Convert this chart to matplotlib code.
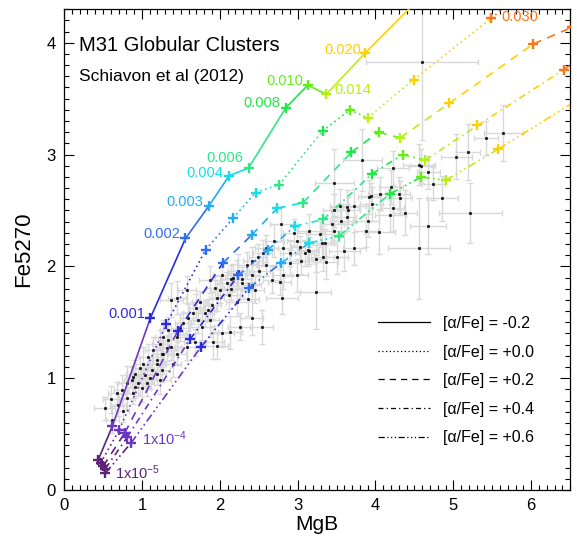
import numpy as np
import matplotlib
matplotlib.use("Agg")
import matplotlib.pyplot as plt
from matplotlib.lines import Line2D

plt.rcParams['font.family'] = ['Liberation Sans', 'DejaVu Sans']
plt.rcParams['mathtext.default'] = 'regular'

# SSP model grid: metallicity steps and colours
z_labels = ['1x10$^{-5}$', '1x10$^{-4}$', '0.001', '0.002', '0.003', '0.004',
            '0.006', '0.008', '0.010', '0.014', '0.020', '0.030', '0.040']
z_colors = ['#5c2378', '#6a36c6', '#2a2ae2', '#2f6ef2', '#22acf6', '#12e0e8',
            '#2ee888', '#1ce846', '#62f014', '#b8f012', '#ffd000', '#ff7414',
            '#ff6010']

alpha_labels = ['[α/Fe] = -0.2', '[α/Fe] = +0.0', '[α/Fe] = +0.2',
                '[α/Fe] = +0.4', '[α/Fe] = +0.6']

mgb_m02 = [0.44, 0.62, 1.11, 1.56, 1.86, 2.12, 2.37, 2.85, 3.13, 3.37, 3.87, 5.00, 5.90]
fe_m02 = [0.27, 0.57, 1.54, 2.25, 2.54, 2.81, 2.88, 3.42, 3.62, 3.54, 3.91, 4.70, 5.30]

mgb_p00 = [0.47, 0.71, 1.31, 1.82, 2.17, 2.46, 2.76, 3.32, 3.67, 3.90, 4.49, 5.49, 6.40]
fe_p00 = [0.24, 0.54, 1.48, 2.15, 2.43, 2.66, 2.73, 3.21, 3.40, 3.33, 3.67, 4.22, 4.75]

mgb_p02 = [0.50, 0.78, 1.46, 2.04, 2.41, 2.74, 3.07, 3.69, 4.04, 4.32, 4.95, 6.03, 6.53]
fe_p02 = [0.21, 0.51, 1.42, 2.03, 2.28, 2.52, 2.57, 3.02, 3.20, 3.15, 3.46, 3.99, 4.14]

mgb_p04 = [0.53, 0.81, 1.62, 2.24, 2.62, 2.97, 3.33, 3.96, 4.35, 4.64, 5.31, 6.42, 7.00]
fe_p04 = [0.19, 0.47, 1.35, 1.92, 2.15, 2.36, 2.42, 2.83, 3.00, 2.95, 3.26, 3.76, 4.05]

mgb_p06 = [0.53, 0.86, 1.76, 2.38, 2.79, 3.15, 3.53, 4.19, 4.59, 4.90, 5.58, 6.90, 7.50]
fe_p06 = [0.15, 0.42, 1.28, 1.81, 2.03, 2.21, 2.27, 2.65, 2.80, 2.77, 3.05, 3.62, 3.90]

# M31 globular clusters
mgb_gc = [0.52, 0.60, 0.62, 0.68, 0.69, 0.74, 0.76, 0.81, 0.81, 0.87, 0.88, 0.88,
          0.91, 0.91, 0.95, 0.97, 1.00, 1.01, 1.04, 1.06, 1.08, 1.10, 1.13, 1.14,
          1.19, 1.19, 1.19, 1.23, 1.23, 1.26, 1.26, 1.27, 1.27, 1.32, 1.33, 1.33,
          1.38, 1.38, 1.40, 1.45, 1.45, 1.45, 1.49, 1.53, 1.58, 1.58, 1.59, 1.65,
          1.68, 1.70, 1.72, 1.74, 1.77, 1.81, 1.85, 1.87, 1.87, 1.90, 1.91, 1.94,
          1.96, 1.96, 2.00, 2.03, 2.03, 2.09, 2.12, 2.13, 2.15, 2.15, 2.17, 2.22,
          2.22, 2.23, 2.26, 2.28, 2.29, 2.35, 2.36, 2.41, 2.41, 2.42, 2.42, 2.45,
          2.49, 2.51, 2.54, 2.55, 2.60, 2.60, 2.67, 2.70, 2.77, 2.79, 2.80, 2.81,
          2.81, 2.90, 2.90, 2.96, 2.99, 2.99, 3.03, 3.05, 3.09, 3.14, 3.15, 3.15,
          3.23, 3.24, 3.29, 3.31, 3.32, 3.35, 3.37, 3.44, 3.47, 3.47, 3.47, 3.50,
          3.54, 3.56, 3.60, 3.63, 3.64, 3.65, 3.73, 3.73, 3.83, 3.88, 3.90, 3.92,
          3.94, 3.95, 4.05, 4.06, 4.19, 4.20, 4.22, 4.22, 4.30, 4.32, 4.38, 4.56,
          4.56, 4.59, 4.60, 4.67, 4.68, 4.74, 4.86, 5.04, 5.19, 5.22, 5.42, 5.64]
fe_gc = [0.73, 0.81, 0.63, 0.87, 0.76, 0.89, 0.71, 0.96, 0.82, 0.98, 0.87, 1.01,
         1.04, 0.92, 0.96, 1.09, 0.91, 1.13, 1.03, 0.96, 1.19, 1.00, 1.07, 1.25,
         1.13, 1.16, 1.04, 1.31, 0.98, 1.07, 1.22, 1.37, 1.22, 1.27, 1.34, 1.43,
         1.28, 1.70, 1.13, 1.22, 1.37, 1.72, 1.45, 1.49, 1.28, 1.79, 1.54, 1.58,
         1.32, 1.63, 1.52, 1.68, 1.46, 1.58, 1.61, 1.52, 1.88, 1.65, 1.32, 1.81,
         1.72, 1.29, 1.79, 1.92, 1.40, 1.85, 1.74, 1.41, 1.89, 1.80, 1.90, 1.94,
         1.68, 1.96, 1.46, 1.85, 1.89, 2.01, 1.71, 1.54, 1.83, 2.05, 1.92, 1.79,
         2.08, 1.96, 1.46, 2.12, 2.01, 2.16, 1.88, 2.23, 1.86, 2.38, 1.72, 2.16,
         1.92, 2.12, 2.03, 2.30, 2.23, 1.92, 2.17, 2.05, 2.12, 2.15, 2.32, 2.14,
         1.77, 2.07, 2.29, 2.21, 2.08, 2.21, 2.04, 2.38, 2.75, 2.50, 2.32, 2.08,
         2.54, 2.41, 2.14, 2.44, 2.53, 2.50, 2.16, 2.54, 2.95, 2.32, 2.41, 2.62,
         2.63, 2.56, 2.31, 2.65, 2.46, 2.71, 2.88, 2.52, 2.65, 2.61, 2.48, 2.91,
         2.16, 2.90, 3.83, 2.36, 2.84, 2.74, 2.61, 2.98, 3.02, 2.48, 3.15, 3.19]
mgb_gc_err = [0.14, 0.10, 0.08, 0.12, 0.10, 0.10, 0.08, 0.12, 0.10, 0.10, 0.10, 0.08,
              0.12, 0.10, 0.10, 0.10, 0.12, 0.10, 0.12, 0.10, 0.12, 0.10, 0.14, 0.10,
              0.12, 0.10, 0.12, 0.10, 0.15, 0.10, 0.12, 0.10, 0.14, 0.10, 0.12, 0.10,
              0.12, 0.15, 0.10, 0.12, 0.10, 0.12, 0.12, 0.10, 0.15, 0.12, 0.10, 0.12,
              0.14, 0.10, 0.12, 0.10, 0.15, 0.12, 0.10, 0.12, 0.14, 0.12, 0.15, 0.12,
              0.10, 0.15, 0.12, 0.12, 0.15, 0.12, 0.14, 0.15, 0.12, 0.12, 0.10, 0.12,
              0.14, 0.12, 0.15, 0.12, 0.12, 0.12, 0.14, 0.15, 0.12, 0.12, 0.10, 0.12,
              0.12, 0.14, 0.15, 0.12, 0.12, 0.15, 0.12, 0.12, 0.15, 0.15, 0.20, 0.12,
              0.12, 0.12, 0.14, 0.15, 0.12, 0.15, 0.12, 0.15, 0.12, 0.12, 0.15, 0.12,
              0.20, 0.12, 0.15, 0.12, 0.15, 0.12, 0.15, 0.15, 0.25, 0.15, 0.15, 0.15,
              0.12, 0.15, 0.20, 0.12, 0.15, 0.15, 0.15, 0.15, 0.25, 0.15, 0.15, 0.15,
              0.12, 0.15, 0.20, 0.15, 0.20, 0.15, 0.20, 0.15, 0.15, 0.15, 0.15, 0.20,
              0.40, 0.15, 0.72, 0.23, 0.15, 0.15, 0.20, 0.20, 0.15, 0.40, 0.15, 0.25]
fe_gc_err = [0.10, 0.12, 0.12, 0.10, 0.10, 0.14, 0.10, 0.15, 0.10, 0.12, 0.10, 0.10,
             0.12, 0.10, 0.12, 0.10, 0.12, 0.15, 0.10, 0.12, 0.12, 0.10, 0.12, 0.12,
             0.15, 0.10, 0.10, 0.12, 0.12, 0.10, 0.12, 0.15, 0.10, 0.12, 0.10, 0.12,
             0.12, 0.15, 0.12, 0.10, 0.12, 0.15, 0.12, 0.10, 0.12, 0.12, 0.12, 0.10,
             0.12, 0.12, 0.12, 0.10, 0.12, 0.12, 0.10, 0.15, 0.12, 0.12, 0.15, 0.10,
             0.12, 0.12, 0.12, 0.12, 0.12, 0.10, 0.12, 0.15, 0.12, 0.10, 0.12, 0.12,
             0.12, 0.15, 0.12, 0.12, 0.10, 0.12, 0.15, 0.15, 0.12, 0.12, 0.10, 0.12,
             0.12, 0.12, 0.15, 0.12, 0.10, 0.12, 0.12, 0.15, 0.12, 0.15, 0.15, 0.12,
             0.12, 0.12, 0.12, 0.12, 0.12, 0.15, 0.10, 0.12, 0.12, 0.15, 0.15, 0.12,
             0.33, 0.12, 0.12, 0.15, 0.12, 0.12, 0.15, 0.15, 0.30, 0.15, 0.12, 0.15,
             0.15, 0.15, 0.18, 0.12, 0.15, 0.12, 0.15, 0.15, 0.28, 0.15, 0.15, 0.15,
             0.12, 0.15, 0.20, 0.15, 0.15, 0.15, 0.15, 0.20, 0.15, 0.15, 0.20, 0.18,
             0.45, 0.15, 0.70, 0.25, 0.15, 0.15, 0.20, 0.20, 0.25, 0.27, 0.15, 0.25]

grid_mgb = [mgb_m02, mgb_p00, mgb_p02, mgb_p04, mgb_p06]
grid_fe = [fe_m02, fe_p00, fe_p02, fe_p04, fe_p06]
styles = ['-', (0, (1, 2)), (0, (5, 4)), (0, (4, 2.5, 1, 2.5)),
          (0, (5, 2, 1, 2, 1, 2, 1, 2))]

fig = plt.figure(figsize=(5.77, 5.42), dpi=100)
ax = fig.add_axes([0.111, 0.096, 0.877, 0.887])

ax.errorbar(mgb_gc, fe_gc, xerr=mgb_gc_err, yerr=fe_gc_err, fmt='none',
            ecolor='#d8d8d8', elinewidth=1.0, capsize=2.2, zorder=1)
ax.plot(mgb_gc, fe_gc, 's', color='black', ms=1.8, mew=0.4, zorder=2)

for xs, ys, ls in zip(grid_mgb, grid_fe, styles):
    for i in range(len(xs) - 1):
        ax.plot(xs[i:i + 2], ys[i:i + 2], color=z_colors[i], lw=1.2,
                linestyle=ls, zorder=3)
    for i in range(len(xs)):
        ax.plot(xs[i], ys[i], '+', color=z_colors[i], ms=7, mew=1.7, zorder=4)

# metallicity labels: (track, index, offset in points, alignment)
z_tags = [(4, 0, (7, 0), 'left'), (4, 1, (8, 3), 'left'),
          (0, 2, (-4, 3), 'right'), (0, 3, (-4, 3), 'right'),
          (0, 4, (-4, 3), 'right'), (0, 5, (-4, 2), 'right'),
          (0, 6, (-4, 7), 'right'), (0, 7, (-4, 3), 'right'),
          (0, 8, (-3, 3), 'right'), (0, 9, (6, 3), 'left'),
          (0, 10, (-3, 2), 'right'), (1, 11, (7, 1), 'left')]
for k, i, off, ha in z_tags:
    ax.annotate(z_labels[i], (grid_mgb[k][i], grid_fe[k][i]), xytext=off,
                textcoords='offset points', ha=ha, va='center',
                color=z_colors[i], fontsize=10.5)

ax.text(0.03, 0.925, 'M31 Globular Clusters', transform=ax.transAxes,
        fontsize=14.5, va='center')
ax.text(0.03, 0.86, 'Schiavon et al (2012)', transform=ax.transAxes,
        fontsize=12.5, va='center')

handles = [Line2D([], [], color='black', lw=0.9, linestyle=ls) for ls in styles]
ax.legend(handles, alpha_labels, loc='upper left', bbox_to_anchor=(0.62, 0.362),
          frameon=False, fontsize=11.5, handlelength=3.3, handletextpad=0.8,
          labelspacing=0.85, borderpad=0, borderaxespad=0)

ax.set_xlim(0, 6.5)
ax.set_ylim(0, 4.3)
ax.set_xticks(np.arange(0, 7, 1))
ax.set_yticks(np.arange(0, 5, 1))
ax.set_xticks(np.arange(0, 6.55, 0.1), minor=True)
ax.set_yticks(np.arange(0, 4.35, 0.1), minor=True)
ax.tick_params(which='both', direction='in', top=True, right=True,
               labelsize=12, width=0.8)
ax.tick_params(which='major', length=7.5, pad=6)
ax.tick_params(which='minor', length=3.5)
for s in ax.spines.values():
    s.set_linewidth(0.9)

ax.set_xlabel('MgB', fontsize=15, labelpad=1)
ax.set_ylabel('Fe5270', fontsize=16, labelpad=9)

fig.savefig('out.png', dpi=100)
